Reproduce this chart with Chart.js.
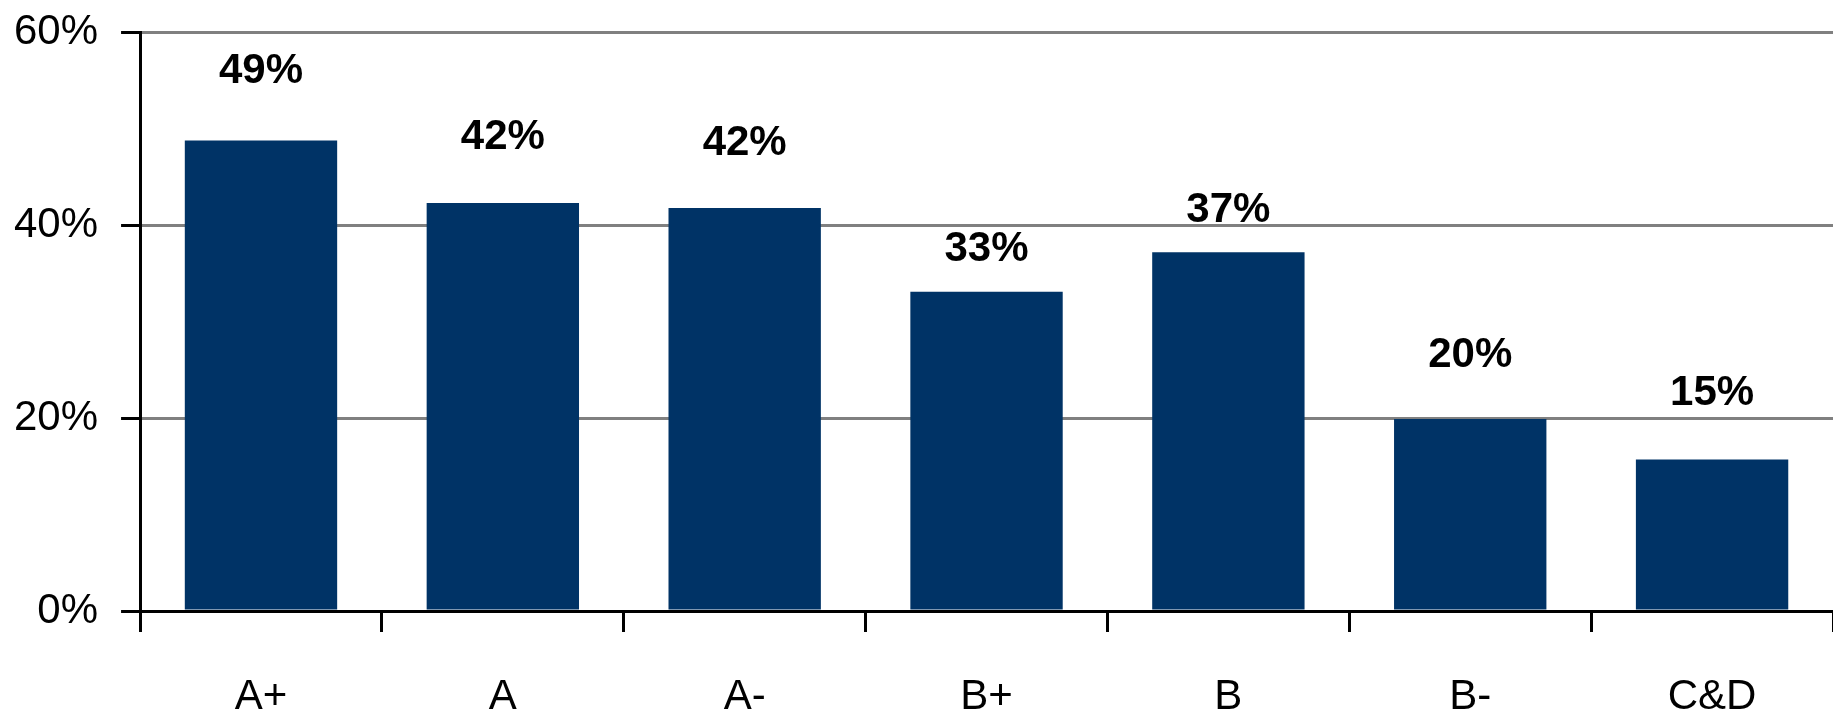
<!DOCTYPE html>
<html>
<head>
<meta charset="utf-8">
<script src="https://cdn.jsdelivr.net/npm/chart.js@4"></script>
<style>
    html, body { margin: 0; padding: 0; background: #fff; overflow: hidden; }
    #wrap { width: 1833px; height: 713px; position: relative; }
</style>
</head>
<body>
<div id="wrap"><canvas id="gradeChart"></canvas></div>
<script>
// ===== Data =====
const grades = ['A+', 'A', 'A-', 'B+', 'B', 'B-', 'C&D'];
const shares = [48.8, 42.3, 41.8, 33.1, 37.2, 19.9, 15.7];
const shareLabels = ['49%', '42%', '42%', '33%', '37%', '20%', '15%'];
const yTicks = [0, 20, 40, 60];

const navy = '#003366';
const fontFamily = '"Liberation Sans", Arial, sans-serif';

// ===== Value labels above the bars =====
const valueLabels = {
    id: 'valueLabels',
    afterDatasetsDraw(chart, args, opts) {
        const ctx = chart.ctx;
        const meta = chart.getDatasetMeta(0);
        ctx.save();
        ctx.font = 'bold 42px ' + fontFamily;
        ctx.fillStyle = '#000';
        ctx.textAlign = 'center';
        ctx.textBaseline = 'middle';
        meta.data.forEach((bar, i) => {
            const gap = opts.gaps[i] || 60;
            ctx.fillText(shareLabels[i], bar.x, bar.y - gap);
        });
        ctx.restore();
    }
};

// Chart.js counts tick padding twice when sizing an axis,
// so the layout padding pulls the chart area back into place
new Chart(document.getElementById('gradeChart'), {
    type: 'bar',
    data: {
        labels: grades,
        datasets: [{
            data: shares,
            backgroundColor: navy,
            borderWidth: 0,
            barPercentage: 0.63,
            categoryPercentage: 1
        }]
    },
    options: {
        responsive: true,
        maintainAspectRatio: false,
        animation: false,
        layout: { padding: { top: 0, left: -9, right: -6, bottom: -49 } },
        scales: {
            x: {
                offset: true,
                grid: {
                    offset: true,
                    drawOnChartArea: false,
                    tickColor: '#000',
                    tickWidth: 3,
                    tickLength: 21
                },
                border: { color: '#000', width: 3 },
                ticks: {
                    color: '#000',
                    padding: 44,
                    font: { family: fontFamily, size: 42, lineHeight: 1 }
                }
            },
            y: {
                min: 0,
                max: 60,
                afterBuildTicks: axis => {
                    axis.ticks = yTicks.map(v => ({ value: v }));
                },
                grid: {
                    color: '#808080',
                    lineWidth: 3,
                    tickColor: '#000',
                    tickWidth: 3,
                    tickLength: 19
                },
                border: { color: '#000', width: 3 },
                ticks: {
                    color: '#000',
                    padding: 23,
                    // short line height keeps the top label from pushing the chart area down
                    font: { family: fontFamily, size: 42, lineHeight: 0.45 },
                    callback: v => v + '%'
                }
            }
        },
        plugins: {
            legend: { display: false },
            tooltip: { enabled: false },
            valueLabels: { gaps: [69, 66, 65, 42, 42, 64, 66] }
        }
    },
    plugins: [valueLabels]
});
</script>
</body>
</html>
